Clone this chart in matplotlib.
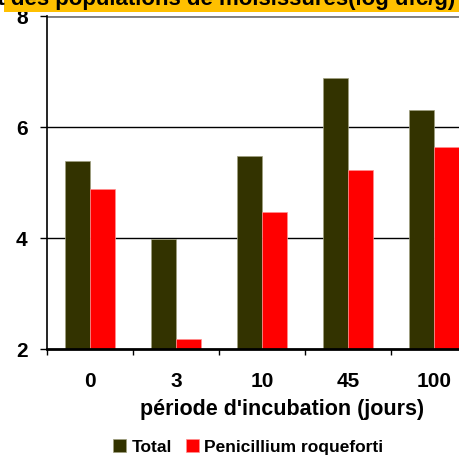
import numpy as np
import matplotlib
matplotlib.use("Agg")
import matplotlib.pyplot as plt
from matplotlib.patches import Rectangle

# data (log ufc/g)
periods = ["0", "3", "10", "45", "100"]
total = [5.39, 3.99, 5.49, 6.88, 6.31]
penicillium = [4.88, 2.19, 4.47, 5.23, 5.65]
series_names = ["Total", "Penicillium roqueforti"]
y_ticks = [2, 4, 6, 8]

plt.rcParams['font.family'] = ['Liberation Sans', 'DejaVu Sans']
plt.rcParams['font.weight'] = 'bold'

W, H = 459, 458
fig = plt.figure(figsize=(W / 100, H / 100), dpi=100)

# axes runs past the right edge like in the original (clipped)
left, right, top, bottom = 47, 477, 16.3, 349.3
ax = fig.add_axes([left / W, 1 - bottom / H, (right - left) / W, (bottom - top) / H])

x = np.arange(len(periods))
bw = 0.285
ax.bar(x - bw / 2, np.array(total) - 2, bw, bottom=2, color='#333300',
       edgecolor='#a0a080', linewidth=0.5, label=series_names[0], zorder=3)
ax.bar(x + bw / 2, np.array(penicillium) - 2, bw, bottom=2, color='#ff0000',
       edgecolor='#ff9090', linewidth=0.5, label=series_names[1], zorder=3)

ax.set_xlim(-0.5, len(periods) - 0.5)
ax.set_ylim(2, 8)
ax.set_yticks(y_ticks)
ax.set_yticklabels([str(v) for v in y_ticks], fontsize=15, fontweight='bold')
ax.tick_params(axis='y', direction='out', length=5, width=1, pad=9)

# category boundaries as major ticks, labels on minor ticks
ax.set_xticks(np.arange(len(periods) + 1) - 0.5)
ax.set_xticklabels([])
ax.tick_params(axis='x', which='major', direction='out', length=4.3, width=1)
ax.set_xticks(x, minor=True)
ax.set_xticklabels(periods, minor=True, fontsize=15, fontweight='bold')
ax.tick_params(axis='x', which='minor', length=0, pad=16)

for v in y_ticks[1:]:
    ax.axhline(v, color='black', linewidth=1, zorder=1)
ax.axhline(8, color='#808080', linewidth=2, zorder=2)

for s in ['top', 'right']:
    ax.spines[s].set_visible(False)
ax.spines['left'].set_linewidth(1.2)
ax.spines['bottom'].set_linewidth(2)
ax.spines['bottom'].set_zorder(4)

fig.text(282 / W, 1 - 410 / H, "période d'incubation (jours)", ha='center',
         va='center', fontsize=15.5, fontweight='bold')

fig.legend(loc='center', bbox_to_anchor=(248 / W, 1 - 447 / H), ncol=2,
           frameon=False, handlelength=0.75, handleheight=0.75,
           handletextpad=0.3, columnspacing=0.8, prop={'weight': 'bold', 'size': 12.5})

# title box, mostly cut off at the top of the image
fig.patches.append(Rectangle((4 / W, 1 - 12 / H), 1, 12 / H, transform=fig.transFigure,
                             facecolor='#ffc000', edgecolor='none', zorder=5))
fig.text(455 / W, 1 - 5 / H, "Dénombrement des populations de moisissures(log ufc/g)",
         ha='right', va='baseline', fontsize=16, fontweight='bold', zorder=6)

fig.savefig("out.png", dpi=100)
